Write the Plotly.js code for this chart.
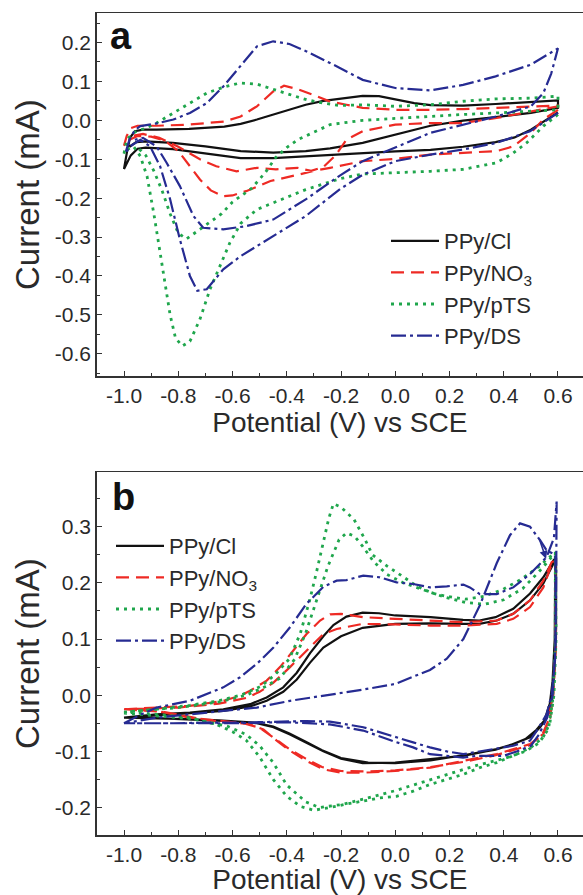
<!DOCTYPE html>
<html><head><meta charset="utf-8">
<script src="https://cdn.plot.ly/plotly-3.0.1.min.js"></script>
<style>html,body{margin:0;padding:0;background:#fff}#chart{width:583px;height:895px}</style>
</head><body><div id="chart"></div>
<script>
// ---------- labels ----------
const seriesNames = ['PPy/Cl', 'PPy/NO<sub>3</sub>', 'PPy/pTS', 'PPy/DS'];
const xTickVals = [-1.0, -0.8, -0.6, -0.4, -0.2, 0.0, 0.2, 0.4, 0.6];
const xTickText = ['-1.0', '-0.8', '-0.6', '-0.4', '-0.2', '0.0', '0.2', '0.4', '0.6'];
const yTickValsA = [-0.6, -0.5, -0.4, -0.3, -0.2, -0.1, 0.0, 0.1, 0.2];
const yTickTextA = ['-0.6', '-0.5', '-0.4', '-0.3', '-0.2', '-0.1', '0.0', '0.1', '0.2'];
const yTickValsB = [-0.2, -0.1, 0.0, 0.1, 0.2, 0.3];
const yTickTextB = ['-0.2', '-0.1', '0.0', '0.1', '0.2', '0.3'];

// ---------- data: panel (a) ----------
const aClV = [0.6,0.55,0.5,0.44,0.37,0.25,0.13,0.0,-0.12,-0.24,-0.33,-0.45,-0.57,-0.7,-0.82,-0.92,-0.95,-0.975,-0.99,-1.0,
  -0.99,-0.978,-0.96,-0.93,-0.88,-0.76,-0.63,-0.57,-0.51,-0.45,-0.39,-0.33,-0.265,-0.2,-0.12,-0.06,0.0,0.07,0.13,0.25,0.37,0.5,0.6,
  0.6,0.5,0.37,0.25,0.13,0.0,-0.12,-0.24,-0.33,-0.45,-0.57,-0.7,-0.82,-0.92,-0.955,-0.98];
const aClI = [0.02,-0.003,-0.024,-0.044,-0.056,-0.068,-0.076,-0.08,-0.085,-0.09,-0.093,-0.097,-0.097,-0.085,-0.074,-0.07,-0.073,-0.09,-0.11,-0.125,
  -0.085,-0.045,-0.028,-0.024,-0.024,-0.022,-0.016,-0.009,0.002,0.015,0.027,0.04,0.05,0.056,0.063,0.062,0.054,0.044,0.039,0.038,0.042,0.047,0.051,
  0.032,0.019,0.008,-0.001,-0.014,-0.037,-0.058,-0.072,-0.079,-0.083,-0.079,-0.067,-0.058,-0.054,-0.056,-0.068];

const aNO3V = [0.6,0.546,0.5,0.435,0.374,0.25,0.13,0.0,-0.12,-0.24,-0.3,-0.36,-0.41,-0.46,-0.5,-0.55,-0.6,-0.635,-0.68,-0.72,-0.757,-0.8,-0.85,-0.9,-0.95,-0.98,-1.0,
  -0.99,-0.975,-0.95,-0.88,-0.76,-0.63,-0.57,-0.51,-0.45,-0.41,-0.36,-0.29,-0.24,-0.18,-0.12,0.0,0.13,0.25,0.37,0.5,0.6,
  0.6,0.5,0.374,0.25,0.13,0.0,-0.12,-0.18,-0.22,-0.265,-0.31,-0.36,-0.44,-0.51,-0.585,-0.66,-0.72,-0.8,-0.87,-0.93,-0.97];
const aNO3I = [0.027,0.002,-0.032,-0.067,-0.079,-0.084,-0.088,-0.099,-0.105,-0.122,-0.13,-0.14,-0.148,-0.156,-0.168,-0.182,-0.193,-0.195,-0.18,-0.152,-0.118,-0.079,-0.052,-0.042,-0.04,-0.05,-0.065,
  -0.04,-0.02,-0.014,-0.014,-0.011,-0.003,0.01,0.036,0.074,0.089,0.08,0.062,0.048,0.04,0.032,0.027,0.027,0.029,0.032,0.036,0.038,
  0.036,0.023,0.006,-0.007,-0.007,-0.011,-0.028,-0.05,-0.09,-0.12,-0.13,-0.122,-0.126,-0.122,-0.131,-0.118,-0.1,-0.068,-0.045,-0.035,-0.04];

const apTSV = [0.6,0.546,0.484,0.435,0.374,0.25,0.13,0.0,-0.12,-0.204,-0.33,-0.39,-0.45,-0.51,-0.57,-0.61,-0.646,-0.683,-0.72,-0.757,-0.785,-0.81,-0.83,-0.85,-0.87,-0.89,-0.915,-0.94,-0.965,-0.99,-1.0,
  -0.99,-0.966,-0.92,-0.88,-0.818,-0.757,-0.695,-0.634,-0.572,-0.51,-0.449,-0.388,-0.327,-0.265,-0.204,-0.12,0.0,0.13,0.25,0.37,0.5,0.6,
  0.6,0.5,0.374,0.25,0.13,0.0,-0.12,-0.24,-0.3,-0.36,-0.4,-0.44,-0.48,-0.53,-0.6,-0.64,-0.68,-0.73,-0.77,-0.8,-0.83,-0.86,-0.89,-0.92,-0.95];
const apTSI = [0.015,-0.015,-0.058,-0.084,-0.109,-0.126,-0.131,-0.135,-0.138,-0.15,-0.178,-0.195,-0.212,-0.229,-0.265,-0.315,-0.374,-0.434,-0.511,-0.568,-0.58,-0.56,-0.5,-0.41,-0.33,-0.24,-0.144,-0.092,-0.067,-0.075,-0.085,
  -0.05,-0.032,-0.02,-0.007,0.019,0.044,0.07,0.085,0.096,0.093,0.079,0.066,0.053,0.044,0.038,0.04,0.036,0.04,0.049,0.055,0.057,0.062,
  0.027,0.023,0.019,0.015,0.01,0.006,0.0,-0.011,-0.03,-0.05,-0.07,-0.095,-0.135,-0.175,-0.21,-0.24,-0.26,-0.285,-0.305,-0.29,-0.24,-0.18,-0.13,-0.09,-0.07];

const aDSV = [0.6,0.497,0.374,0.25,0.13,0.0,-0.12,-0.2,-0.33,-0.45,-0.57,-0.634,-0.695,-0.73,-0.757,-0.794,-0.83,-0.867,-0.904,-0.94,-0.978,-0.995,
  -0.98,-0.96,-0.94,-0.88,-0.818,-0.757,-0.695,-0.634,-0.572,-0.51,-0.45,-0.39,-0.327,-0.265,-0.22,-0.12,0.0,0.13,0.25,0.37,0.5,0.6,
  0.575,0.546,0.5,0.374,0.25,0.13,0.0,-0.12,-0.2,-0.33,-0.45,-0.55,-0.634,-0.708,-0.744,-0.794,-0.843,-0.88,-0.93,-0.96];
const aDSI = [0.019,-0.028,-0.058,-0.075,-0.088,-0.105,-0.14,-0.175,-0.246,-0.297,-0.349,-0.383,-0.434,-0.438,-0.4,-0.306,-0.203,-0.118,-0.067,-0.05,-0.067,-0.085,
  -0.05,-0.025,-0.015,-0.008,0.002,0.019,0.044,0.087,0.138,0.19,0.203,0.196,0.177,0.156,0.14,0.104,0.083,0.077,0.091,0.113,0.143,0.185,
  0.12,0.07,0.036,0.01,-0.011,-0.032,-0.07,-0.105,-0.14,-0.203,-0.255,-0.272,-0.28,-0.276,-0.246,-0.169,-0.109,-0.067,-0.045,-0.05];

// ---------- data: panel (b) ----------
const bClV = [-1.0,-0.88,-0.757,-0.634,-0.535,-0.474,-0.413,-0.363,-0.314,-0.265,-0.228,-0.18,-0.12,-0.06,0.0,0.13,0.25,0.31,0.37,0.435,0.497,0.546,0.583,0.593,
  0.593,0.585,0.577,0.558,0.534,0.497,0.435,0.374,0.25,0.13,0.0,-0.12,-0.2,-0.265,-0.327,-0.388,-0.449,-0.51,-0.634,-0.757,-0.88,-1.0,
  -0.88,-0.757,-0.634,-0.535,-0.474,-0.413,-0.363,-0.314,-0.265,-0.2,-0.12,0.0,0.13,0.25,0.31,0.374,0.435,0.497,0.546,0.583,0.59,
  0.588,0.58,0.57,0.55,0.52,0.48,0.43,0.37,0.25,0.13,0.0,-0.1,-0.2,-0.27,-0.33,-0.39,-0.45,-0.52,-0.65,-0.8,-1.0];
const bClI = [-0.04,-0.034,-0.031,-0.025,-0.016,-0.004,0.014,0.04,0.075,0.105,0.125,0.14,0.147,0.146,0.142,0.139,0.134,0.133,0.139,0.154,0.181,0.21,0.24,0.245,
  0.12,0.032,-0.01,-0.04,-0.057,-0.075,-0.087,-0.096,-0.108,-0.114,-0.12,-0.121,-0.113,-0.1,-0.085,-0.07,-0.057,-0.05,-0.046,-0.043,-0.041,-0.04,
  -0.036,-0.033,-0.028,-0.02,-0.01,0.006,0.028,0.058,0.085,0.105,0.12,0.127,0.128,0.127,0.127,0.133,0.145,0.169,0.199,0.234,0.24,
  0.1,0.025,-0.015,-0.045,-0.062,-0.078,-0.088,-0.097,-0.107,-0.116,-0.121,-0.12,-0.112,-0.098,-0.083,-0.068,-0.056,-0.049,-0.045,-0.042,-0.04];

const bNO3V = [-1.0,-0.88,-0.757,-0.634,-0.572,-0.535,-0.474,-0.425,-0.376,-0.327,-0.277,-0.24,-0.2,-0.12,0.0,0.13,0.25,0.374,0.435,0.497,0.546,0.577,0.59,
  0.593,0.583,0.571,0.546,0.497,0.374,0.25,0.13,0.0,-0.12,-0.2,-0.265,-0.327,-0.388,-0.437,-0.486,-0.535,-0.634,-0.757,-0.88,-1.0,
  -0.8,-0.65,-0.55,-0.5,-0.45,-0.388,-0.327,-0.265,-0.216,-0.15,-0.12,0.0,0.13,0.25,0.374,0.435,0.497,0.546,0.577,0.59,
  0.59,0.58,0.565,0.54,0.49,0.37,0.25,0.13,0.0,-0.1,-0.2,-0.27,-0.33,-0.39,-0.44,-0.5,-0.56,-0.7,-0.85,-1.0];
const bNO3I = [-0.025,-0.022,-0.019,-0.01,-0.001,0.008,0.026,0.05,0.079,0.109,0.133,0.144,0.145,0.139,0.136,0.133,0.13,0.133,0.145,0.169,0.204,0.237,0.24,
  0.09,0.002,-0.04,-0.069,-0.087,-0.105,-0.117,-0.129,-0.135,-0.138,-0.138,-0.132,-0.117,-0.099,-0.081,-0.061,-0.052,-0.046,-0.04,-0.028,-0.025,
  -0.022,-0.015,-0.005,0.006,0.022,0.05,0.079,0.109,0.118,0.124,0.127,0.126,0.124,0.124,0.127,0.136,0.157,0.192,0.234,0.238,
  0.08,0.0,-0.045,-0.072,-0.09,-0.107,-0.119,-0.128,-0.134,-0.136,-0.135,-0.128,-0.113,-0.096,-0.078,-0.058,-0.05,-0.044,-0.03,-0.025];

const bpTSV = [-1.0,-0.88,-0.757,-0.65,-0.57,-0.535,-0.494,-0.44,-0.39,-0.35,-0.315,-0.29,-0.265,-0.245,-0.228,-0.2,-0.152,-0.111,-0.084,-0.03,0.026,0.08,0.135,0.19,0.258,0.326,0.395,0.463,0.532,0.573,0.59,
  0.593,0.585,0.57,0.545,0.5,0.448,0.374,0.312,0.251,0.19,0.128,0.066,0.005,-0.057,-0.118,-0.18,-0.241,-0.3,-0.35,-0.4,-0.45,-0.5,-0.55,-0.6,-0.66,-0.757,-0.88,-1.0,
  -0.8,-0.65,-0.55,-0.48,-0.426,-0.371,-0.33,-0.289,-0.248,-0.207,-0.18,-0.15,-0.12,-0.08,-0.03,0.03,0.1,0.18,0.26,0.33,0.4,0.47,0.53,0.575,0.59,
  0.59,0.58,0.565,0.53,0.48,0.4,0.3,0.2,0.1,0.0,-0.1,-0.2,-0.28,-0.33,-0.4,-0.45,-0.5,-0.55,-0.62,-0.75,-1.0];
const bpTSI = [-0.03,-0.025,-0.018,-0.01,0.0,0.008,0.016,0.038,0.065,0.11,0.17,0.22,0.275,0.315,0.341,0.335,0.313,0.277,0.25,0.23,0.212,0.194,0.182,0.176,0.171,0.176,0.188,0.206,0.23,0.248,0.255,
  0.1,0.0,-0.05,-0.075,-0.093,-0.105,-0.12,-0.129,-0.141,-0.15,-0.159,-0.171,-0.18,-0.183,-0.188,-0.194,-0.2,-0.205,-0.198,-0.18,-0.15,-0.11,-0.08,-0.065,-0.052,-0.04,-0.034,-0.03,
  -0.022,-0.012,0.0,0.015,0.03,0.064,0.111,0.171,0.23,0.277,0.289,0.283,0.265,0.238,0.215,0.2,0.188,0.175,0.165,0.162,0.17,0.19,0.22,0.245,0.25,
  0.09,-0.01,-0.06,-0.085,-0.1,-0.113,-0.125,-0.14,-0.155,-0.17,-0.183,-0.195,-0.2,-0.19,-0.16,-0.12,-0.09,-0.07,-0.055,-0.042,-0.032];

const bDSV = [-1.0,-0.94,-0.88,-0.757,-0.634,-0.572,-0.51,-0.449,-0.388,-0.327,-0.265,-0.216,-0.18,-0.118,-0.057,0.005,0.066,0.128,0.19,0.251,0.275,0.312,0.374,0.435,0.497,0.558,0.585,0.595,
  0.593,0.589,0.577,0.558,0.521,0.497,0.435,0.374,0.312,0.251,0.19,0.128,0.066,0.005,-0.057,-0.118,-0.18,-0.241,-0.327,-0.449,-0.572,-0.695,-0.818,-1.0,
  -0.88,-0.757,-0.634,-0.51,-0.388,-0.265,-0.118,0.0,0.128,0.19,0.251,0.312,0.374,0.423,0.46,0.497,0.534,0.558,0.59,
  0.592,0.58,0.56,0.53,0.5,0.45,0.4,0.3,0.25,0.128,0.066,0.0,-0.118,-0.241,-0.4,-0.6,-0.8,-1.0];
const bDSI = [-0.05,-0.035,-0.022,-0.01,0.014,0.032,0.056,0.085,0.121,0.163,0.193,0.204,0.205,0.213,0.21,0.201,0.198,0.192,0.194,0.197,0.192,0.18,0.18,0.192,0.216,0.246,0.28,0.345,
  0.18,0.062,0.002,-0.034,-0.064,-0.081,-0.09,-0.095,-0.1,-0.105,-0.1,-0.093,-0.084,-0.075,-0.066,-0.057,-0.052,-0.047,-0.046,-0.048,-0.049,-0.049,-0.05,-0.05,
  -0.04,-0.034,-0.028,-0.022,-0.01,-0.001,0.01,0.02,0.045,0.065,0.1,0.16,0.235,0.285,0.306,0.3,0.276,0.258,0.25,
  0.1,0.0,-0.04,-0.07,-0.09,-0.1,-0.108,-0.108,-0.111,-0.105,-0.093,-0.083,-0.063,-0.052,-0.048,-0.05,-0.05,-0.05];

// ---------- styles ----------
const FONT = '"Liberation Sans", Arial, Helvetica, sans-serif';
const styles = [
  {color: '#111111', width: 2.2, dash: 'solid'},
  {color: '#ee2a24', width: 2.2, dash: '13px,7px'},
  {color: '#1fa64c', width: 2.8, dash: '3px,5px'},
  {color: '#262b92', width: 2.2, dash: '15px,4px,3px,4px'}
];
const panelA = [[aClV, aClI], [aNO3V, aNO3I], [apTSV, apTSI], [aDSV, aDSI]];
const panelB = [[bClV, bClI], [bNO3V, bNO3I], [bpTSV, bpTSI], [bDSV, bDSI]];

const traces = [];
panelA.forEach((d, i) => traces.push({
  x: d[0], y: d[1], xaxis: 'x', yaxis: 'y', type: 'scatter', mode: 'lines',
  name: seriesNames[i], legend: 'legend', legendgroup: 'a' + i,
  line: {color: styles[i].color, width: styles[i].width, dash: styles[i].dash}
}));
panelB.forEach((d, i) => traces.push({
  x: d[0], y: d[1], xaxis: 'x2', yaxis: 'y2', type: 'scatter', mode: 'lines',
  name: seriesNames[i], legend: 'legend2', legendgroup: 'b' + i,
  line: {color: styles[i].color, width: styles[i].width, dash: styles[i].dash}
}));

function xAxis(anchor) {
  return {
    anchor: anchor, domain: [96.7 / 583, 1], range: [-1.1007, 0.6922],
    tickmode: 'array', tickvals: xTickVals, ticktext: xTickText,
    ticks: 'inside', ticklen: 5, tickwidth: 1, tickcolor: '#333',
    minor: {tickmode: 'linear', tick0: 0, dtick: 0.1, ticks: 'inside', ticklen: 3, tickcolor: '#333'},
    showline: true, linecolor: '#333', linewidth: 1.5, mirror: true,
    showgrid: false, zeroline: false,
    tickfont: {family: FONT, size: 21, color: '#2a2a2a'},
    title: {text: 'Potential (V) vs SCE', font: {family: FONT, size: 28, color: '#2a2a2a'}, standoff: 3},
    automargin: false
  };
}
function yAxis(dom, rng, tv, tt, anchor) {
  return {
    anchor: anchor, domain: dom, range: rng,
    tickmode: 'array', tickvals: tv, ticktext: tt,
    ticks: 'inside', ticklen: 5, tickwidth: 1, tickcolor: '#333',
    minor: {tickmode: 'linear', tick0: 0, dtick: 0.05, ticks: 'inside', ticklen: 3, tickcolor: '#333'},
    showline: true, linecolor: '#333', linewidth: 1.5, mirror: false,
    showgrid: false, zeroline: false,
    tickfont: {family: FONT, size: 21, color: '#2a2a2a'},
    title: {text: 'Current (mA)', font: {family: FONT, size: 33, color: '#2a2a2a'}, standoff: 5},
    automargin: false
  };
}

const layout = {
  width: 583, height: 895,
  margin: {l: 0, r: 0, t: 0, b: 0},
  paper_bgcolor: '#fff', plot_bgcolor: '#fff',
  font: {family: FONT, color: '#2a2a2a'},
  xaxis: xAxis('y'),
  yaxis: yAxis([1 - 376 / 895, 1 - 13.3 / 895], [-0.657, 0.275], yTickValsA, yTickTextA, 'x'),
  xaxis2: xAxis('y2'),
  yaxis2: yAxis([1 - 835 / 895, 1 - 472.3 / 895], [-0.249, 0.397], yTickValsB, yTickTextB, 'x2'),
  legend: {x: 386 / 583, y: 1 - 220 / 895, xanchor: 'left', yanchor: 'top', bgcolor: 'rgba(0,0,0,0)',
    font: {family: FONT, size: 22, color: '#2a2a2a'}, tracegroupgap: 0, itemwidth: 48},
  legend2: {x: 111 / 583, y: 1 - 525 / 895, xanchor: 'left', yanchor: 'top', bgcolor: 'rgba(0,0,0,0)',
    font: {family: FONT, size: 22, color: '#2a2a2a'}, tracegroupgap: 0, itemwidth: 48},
  showlegend: true,
  annotations: [
    {xref: 'paper', yref: 'paper', x: 121 / 583, y: 1 - 36 / 895, xanchor: 'center', yanchor: 'middle',
      text: '<b>a</b>', showarrow: false, font: {family: FONT, size: 38, color: '#111'}},
    {xref: 'paper', yref: 'paper', x: 123 / 583, y: 1 - 497 / 895, xanchor: 'center', yanchor: 'middle',
      text: '<b>b</b>', showarrow: false, font: {family: FONT, size: 38, color: '#111'}},
    {xref: 'x2', yref: 'y2', x: 0.556, y: 0.243, axref: 'x2', ayref: 'y2', ax: 0.53, ay: 0.28, text: '',
      showarrow: true, arrowhead: 2, arrowsize: 1, arrowwidth: 1.6, arrowcolor: '#262b92'}
  ]
};

Plotly.newPlot('chart', traces, layout, {displayModeBar: false, staticPlot: true});
</script>
</body></html>
